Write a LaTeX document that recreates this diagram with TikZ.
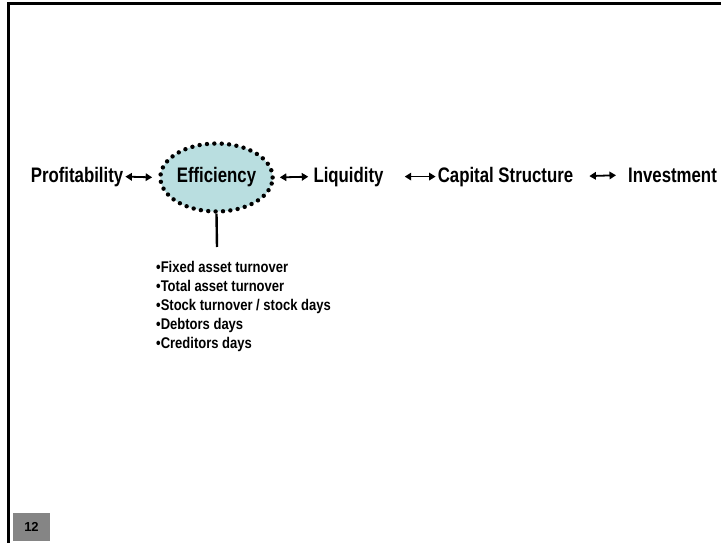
\documentclass[tikz,border=0pt]{standalone}
\usepackage{fontspec}
\setmainfont{Liberation Sans}
\usetikzlibrary{arrows.meta,shapes.geometric}
\definecolor{ovalfill}{HTML}{B9DEE0}
\definecolor{tabgrey}{HTML}{858585}
% condensed lettering
\newcommand{\narrow}[1]{\scalebox{0.8}[1]{#1}}
\newcommand{\listnarrow}[1]{\scalebox{0.84}[1]{#1}}
\begin{document}
\begin{tikzpicture}[x=1pt,y=-1pt,
  term/.style={inner sep=0pt, anchor=base, font=\fontsize{21}{24}\selectfont\bfseries},
  oval/.style={ellipse, inner sep=0pt, minimum width=112pt, minimum height=68pt,
    fill=ovalfill, draw=black, line width=4.4pt, line cap=round,
    dash pattern=on 0pt off 7.4pt, font=\fontsize{21}{24}\selectfont\bfseries},
  link/.style={{Triangle[length=6.5pt,width=7.5pt]}-{Triangle[length=6.5pt,width=7.5pt]}, line width=1.8pt},
  ratiolist/.style={inner sep=0pt, anchor=north west, align=left,
    font=\fontsize{15.5}{19}\selectfont\bfseries},
  tab/.style={fill=tabgrey, inner sep=0pt, minimum width=37pt, minimum height=28pt,
    font=\fontsize{13}{14}\selectfont\bfseries}
]
\useasboundingbox (0,0) rectangle (721,543);
% slide frame
\draw[line width=3pt] (8,543) -- (8,4) -- (721,4);

% chain of analysis areas
\node[term] (prof) at (77,182) {\narrow{Profitability}};
\node[oval] (eff) at (216.5,177.5) {\narrow{Efficiency}};
\node[term] (liq) at (348.5,182) {\narrow{Liquidity}};
\node[term] (cap) at (505.5,182) {\narrow{Capital Structure}};
\node[term] (inv) at (672.5,182) {\narrow{Investment}};

\draw[link, shorten <=2pt, shorten >=6pt] (prof.east) -- (eff.west);
\draw[link, shorten <=5pt, shorten >=5pt] (eff.east) -- (liq.west);
\draw[link, shorten <=21pt, shorten >=2pt] (liq.east) -- (cap.west);
\draw[link, shorten <=16pt, shorten >=12pt] (cap.east) -- (inv.west);

% efficiency ratios
\coordinate (stem) at (217,247);
\draw[line width=2.4pt] (eff.south) -- (stem);
\node[ratiolist] (ratios) at (156,261.5) {\listnarrow{•Fixed asset turnover}\\
  \listnarrow{•Total asset turnover}\\
  \listnarrow{•Stock turnover / stock days}\\
  \listnarrow{•Debtors days}\\
  \listnarrow{•Creditors days}};

% page number tab
\node[tab] (pageno) at (31.5,527) {12};
\end{tikzpicture}
\end{document}
